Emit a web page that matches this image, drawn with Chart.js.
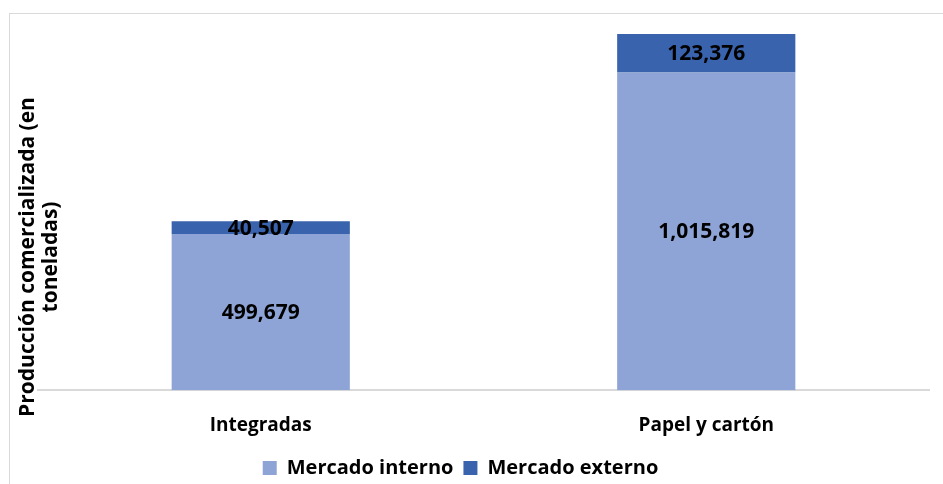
<!DOCTYPE html>
<html>
<head>
<meta charset="utf-8">
<script src="https://cdn.jsdelivr.net/npm/chart.js@4/dist/chart.umd.min.js"></script>
<style>
	body { margin:0; background:#fff; }
	#wrap { position:relative; width:943px; height:484px; overflow:hidden; }
	#frame { position:absolute; left:9px; top:13px; width:960px; height:500px; border:1px solid #d9d9d9; }
	#mycanvas { position:absolute; left:0; top:0; }
</style>
</head>
<body>
<div id="wrap">
	<div id="frame"></div>
	<canvas id="mycanvas" width="943" height="484"></canvas>
</div>
<script>
// data
var categories = ['Integradas', 'Papel y cartón'];
var interno = [499679, 1015819];
var externo = [40507, 123376];
var seriesNames = ['Mercado interno', 'Mercado externo'];
var yTitle = ['Producción comercializada (en', 'toneladas)'];

var fontFamily = '"Open Sans", sans-serif';

//draw the value in the middle of every bar segment
var barLabels = {
	id: 'barLabels',
	afterDatasetsDraw: function(chart) {
		var ctx = chart.ctx;
		ctx.save();
		ctx.font = 'bold 21px ' + fontFamily;
		ctx.fillStyle = '#000';
		ctx.textAlign = 'center';
		ctx.textBaseline = 'middle';
		chart.data.datasets.forEach(function(ds, i) {
			var meta = chart.getDatasetMeta(i);
			meta.data.forEach(function(bar, j) {
				var mid = (bar.y + bar.base) / 2;
				ctx.fillText(ds.data[j].toLocaleString('en-US'), bar.x, mid + 1);
			});
		});
		ctx.restore();
	}
};

//rotated y title in two lines
var yTitlePlugin = {
	id: 'yTitlePlugin',
	afterDraw: function(chart) {
		var ctx = chart.ctx;
		ctx.save();
		ctx.font = 'bold 21px ' + fontFamily;
		ctx.fillStyle = '#000';
		ctx.textAlign = 'center';
		ctx.textBaseline = 'middle';
		ctx.translate(28, 257);
		ctx.rotate(-Math.PI / 2);
		ctx.fillText(yTitle[0], 0, 0);
		ctx.fillText(yTitle[1], 0, 23);
		ctx.restore();
	}
};

//legend sits a bit left of the plot centre in the picture
var legendShift = {
	id: 'legendShift',
	afterLayout: function(chart) {
		chart.legend.left -= 23;
		chart.legend.right -= 23;
		chart.legend.top -= 5;
		chart.legend.bottom -= 5;
	}
};

var chartdata = {
	labels: categories,
	datasets: [
		{
			label: seriesNames[0],
			backgroundColor: '#8FA4D6',
			data: interno,
			categoryPercentage: 1,
			barPercentage: 0.4
		},
		{
			label: seriesNames[1],
			backgroundColor: '#3A63AE',
			data: externo,
			categoryPercentage: 1,
			barPercentage: 0.4
		}
	]
};

var ctx = document.getElementById('mycanvas');
var barGraph = new Chart(ctx, {
	type: 'bar',
	data: chartdata,
	plugins: [barLabels, yTitlePlugin, legendShift],
	options: {
		responsive: false,
		animation: false,
		layout: { padding: { left: 38, right: 14, top: 15, bottom: -9 } },
		scales: {
			x: {
				stacked: true,
				grid: { display: false },
				border: { color: '#d9d9d9', width: 2 },
				ticks: {
					color: '#000',
					padding: 16,
					font: { family: fontFamily, size: 19, weight: 'bold' }
				}
			},
			y: {
				stacked: true,
				display: false,
				min: 0,
				max: 1200000
			}
		},
		plugins: {
			tooltip: { enabled: false },
			legend: {
				position: 'bottom',
				labels: {
					color: '#000',
					boxWidth: 14,
					boxHeight: 14,
					padding: 10,
					font: { family: fontFamily, size: 20, weight: 'bold' }
				}
			}
		}
	}
});
</script>
</body>
</html>
